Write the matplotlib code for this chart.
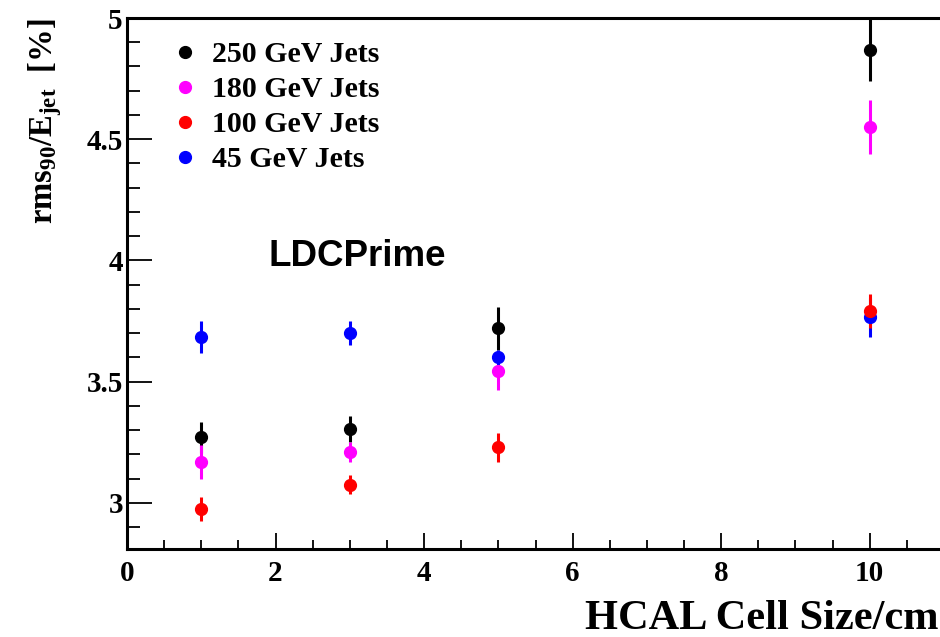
import matplotlib.pyplot as plt
from matplotlib.lines import Line2D
import numpy as np

plt.rcParams["font.family"] = ["Liberation Serif", "DejaVu Serif"]
plt.rcParams["font.weight"] = "bold"
plt.rcParams["mathtext.fontset"] = "custom"
plt.rcParams["mathtext.rm"] = "Liberation Serif:bold"
plt.rcParams["mathtext.it"] = "Liberation Serif:bold"
plt.rcParams["mathtext.bf"] = "Liberation Serif:bold"

# cell sizes in cm
cell = [1, 3, 5, 10]

# rms90/E_jet [%] and errors for each jet energy
e250 = [3.27, 3.305, 3.72, 4.87]
e250_err = [0.065, 0.055, 0.09, 0.13]
e180 = [3.17, 3.21, 3.545, 4.55]
e180_err = [0.07, 0.04, 0.08, 0.11]
e100 = [2.975, 3.075, 3.23, 3.79]
e100_err = [0.05, 0.04, 0.06, 0.07]
e45 = [3.685, 3.70, 3.60, 3.765]
e45_err = [0.065, 0.05, 0.03, 0.08]

series = [
    ("250 GeV Jets", e250, e250_err, "black"),
    ("180 GeV Jets", e180, e180_err, "#ff00ff"),
    ("45 GeV Jets", e45, e45_err, "blue"),
    ("100 GeV Jets", e100, e100_err, "red"),
]
legend_order = ["250 GeV Jets", "180 GeV Jets", "100 GeV Jets", "45 GeV Jets"]

fig = plt.figure(figsize=(9.4, 6.37), dpi=100)
ax = fig.add_axes([127/940, 88/637, 817/940, 531/637])

colors = {}
for name, vals, errs, col in series:
    ax.errorbar(cell, vals, yerr=errs, fmt='o', color=col, markersize=8.5,
                elinewidth=2.2, capsize=0)
    colors[name] = col

ax.set_xlim(0, 11)
ax.set_ylim(2.81, 5.0)
ax.set_xticks(np.arange(0, 11, 2))
ax.set_xticks(np.arange(0, 11, 0.5), minor=True)
ax.set_yticks([3, 3.5, 4, 4.5, 5])
ax.set_yticklabels(["3", "3.5", "4", "4.5", "5"])
ax.set_yticks(np.arange(2.9, 5.0, 0.1), minor=True)

ax.tick_params(axis='both', which='both', direction='in', labelsize=21, width=1.3)
ax.tick_params(axis='y', which='major', length=18, pad=3)
ax.tick_params(axis='y', which='minor', length=9.5)
ax.tick_params(axis='x', which='major', length=11.5, pad=8)
ax.tick_params(axis='x', which='minor', length=6.5)
for lab in ax.get_xticklabels() + ax.get_yticklabels():
    lab.set_fontweight('bold')
for s in ax.spines.values():
    s.set_linewidth(2.2)

ax.set_xlabel('HCAL Cell Size/cm', fontsize=30.5, fontweight='bold')
ax.xaxis.set_label_coords(0.993, -0.150)
ax.xaxis.label.set_horizontalalignment('right')
ax.xaxis.label.set_verticalalignment('baseline')
ax.set_ylabel(r'$\mathrm{rms_{90}/E_{jet}}$  [%]', fontsize=23.5, fontweight='bold')
ax.yaxis.set_label_coords(-0.10, 1.0)
ax.yaxis.label.set_verticalalignment('center')
ax.yaxis.label.set_horizontalalignment('right')

ax.text(0.1726, 0.55, 'LDCPrime', transform=ax.transAxes, fontsize=26.5,
        fontweight='bold', family=['Liberation Sans', 'DejaVu Sans'], va='center')

# legend shows the markers only
proxies = [Line2D([], [], ls='none', marker='o', markersize=8.5, color=colors[n])
           for n in legend_order]
leg = ax.legend(proxies, legend_order, loc='upper left',
                bbox_to_anchor=(0.024, 1.007), frameon=False,
                handlelength=0.8, handletextpad=0.5, labelspacing=0.27,
                prop={'weight': 'bold', 'size': 21.5})

fig.savefig('out.png', dpi=100)
